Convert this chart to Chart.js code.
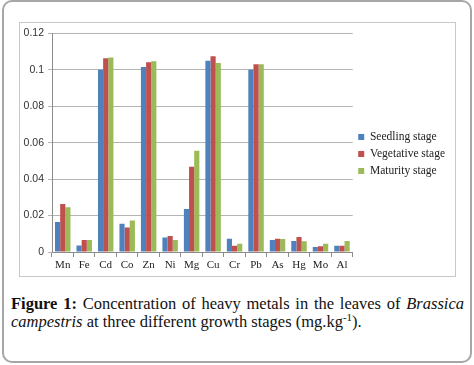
<!DOCTYPE html>
<html>
<head>
<meta charset="utf-8">
<script src="https://cdn.jsdelivr.net/npm/chart.js@4"></script>
<style>
  body { margin: 0; background: #fff; width: 474px; height: 365px; position: relative; overflow: hidden; }
  #frame { position: absolute; left: 2px; top: 0px; width: 466px; height: 359px; border: 2px solid #a6a6a6; border-radius: 10px; }
  #box { position: absolute; left: 19px; top: 22px; width: 435px; height: 253px; border: 1px solid #c8c8c8; }
  #caption { position: absolute; left: 11px; top: 295px; width: 453px; font-family: "Liberation Serif", serif; font-size: 16.5px; line-height: 18px; text-align: justify; color: #111; }
</style>
</head>
<body>
<div id="frame"></div>
<div id="box"><canvas id="c" width="435" height="253"></canvas></div>
<div id="caption"><b>Figure 1:</b> Concentration of heavy metals in the leaves of <i>Brassica campestris</i> at three different growth stages (mg.kg<sup style="font-size:11px;line-height:0">-1</sup>).</div>
<script>
// metals on the x axis
var metals = ["Mn","Fe","Cd","Co","Zn","Ni","Mg","Cu","Cr","Pb","As","Hg","Mo","Al"];

// concentrations
var seedling   = [0.0164,0.0036,0.1000,0.0155,0.1015,0.0079,0.0236,0.1050,0.0073,0.1000,0.0066,0.0061,0.0027,0.0034];
var vegetative = [0.0263,0.0066,0.1063,0.0134,0.1041,0.0088,0.0468,0.1074,0.0034,0.1030,0.0073,0.0082,0.0032,0.0034];
var maturity   = [0.0245,0.0066,0.1067,0.0173,0.1046,0.0066,0.0555,0.1037,0.0045,0.1030,0.0071,0.0059,0.0045,0.0061];

var seriesNames = ["Seedling stage","Vegetative stage","Maturity stage"];
var yTicks = [0, 0.02, 0.04, 0.06, 0.08, 0.1, 0.12];

var ctx = document.getElementById("c").getContext("2d");
var chart = new Chart(ctx, {
    type: "bar",
    data: {
        labels: metals,
        datasets: [
            { label: seriesNames[0], data: seedling,   backgroundColor: "#4f81bd" },
            { label: seriesNames[1], data: vegetative, backgroundColor: "#c0504d" },
            { label: seriesNames[2], data: maturity,   backgroundColor: "#9bbb59" }
        ]
    },
    options: {
        responsive: false,
        animation: false,
        layout: { padding: { top: 9, right: 0, left: 0, bottom: 0 } },
        datasets: { bar: { barPercentage: 1.0, categoryPercentage: 0.72 } },
        plugins: {
            tooltip: { enabled: false },
            legend: {
                position: "right",
                labels: {
                    boxWidth: 6, boxHeight: 6, padding: 5.5,
                    color: "#222",
                    font: { family: "Liberation Serif", size: 11.5 }
                }
            }
        },
        scales: {
            x: {
                grid: { offset: true, drawOnChartArea: false, color: "#8c8c8c", tickLength: 5 },
                border: { color: "#8c8c8c" },
                ticks: { color: "#222", padding: 2, maxRotation: 0, font: { family: "Liberation Serif", size: 11 } },
                afterFit: function(scale) { scale.height = 24; }
            },
            y: {
                min: 0, max: 0.12,
                afterBuildTicks: function(scale) { scale.ticks = yTicks.map(function(v){ return { value: v }; }); },
                grid: { color: "#b4b4b4", tickLength: 4 },
                border: { color: "#8c8c8c" },
                ticks: {
                    color: "#333", padding: 4,
                    font: { family: "Liberation Sans", size: 10.5 },
                    callback: function(v) { return v === 0 ? "0" : String(+v.toFixed(2)); }
                },
                afterFit: function(scale) { scale.width = 32; }
            }
        }
    }
});
</script>
</body>
</html>
